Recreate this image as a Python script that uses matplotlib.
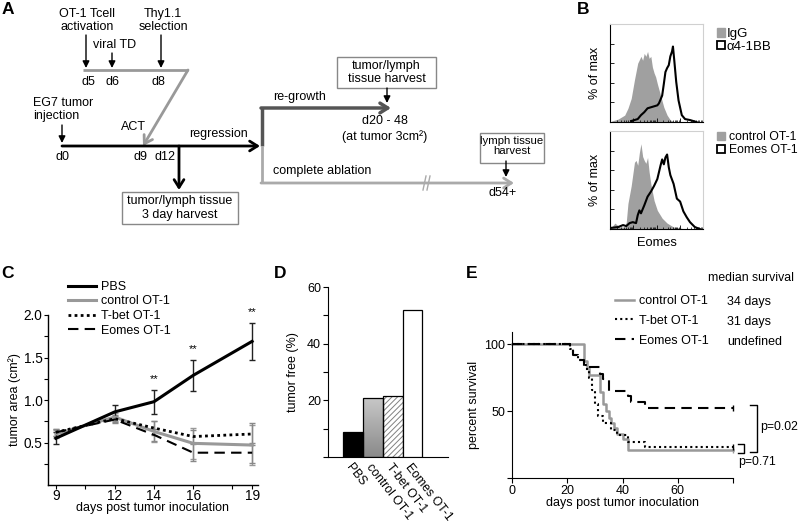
import matplotlib
matplotlib.use('Agg')
import matplotlib.pyplot as plt
import numpy as np
from matplotlib.patches import Rectangle, Patch

plt.rcParams['font.family'] = ['Liberation Sans', 'DejaVu Sans']
plt.rcParams['hatch.linewidth'] = 0.7

# ---------------- data ----------------
# Panel B histograms (channel 0-100 on a 4-decade log axis, % of max)
igg_x = [1.8, 8.8, 15.8, 19.3, 22.8, 26.3, 29.8, 33.3, 35.1, 36.8, 38.6, 40.4, 42.1, 43.9,
         45.6, 47.4, 49.1, 50.9, 54.4, 57.9, 61.4, 64.9, 70.2]
igg_y = [1, 3, 7, 14, 24, 43, 60, 67, 63, 70, 67, 72, 65, 67, 56, 50, 46, 39, 27, 15, 7, 2, 0]
a41bb_x = [22.8, 26.3, 29.8, 33.3, 36.8, 40.4, 43.9, 47.4, 50.9, 52.6, 56.1, 57.9, 59.6, 61.4,
           63.2, 64.9, 66.7, 67.7, 69.1, 71.2, 73.7, 77.2, 80.7, 86, 93]
a41bb_y = [1, 2, 3, 7, 10, 14, 15, 16, 17, 19, 27, 39, 51, 55, 58, 67, 72, 77, 63, 41, 22, 7, 3, 2, 0]
ctrlB_x = [0, 5.3, 10.5, 15.8, 17.5, 19.3, 22.8, 26.3, 28, 29.8, 31.6, 33.3, 35.1, 36.8, 38.6,
           40.4, 42.1, 43.9, 47.4, 50.9, 56.1, 61.4, 68.4, 75.4, 80]
ctrlB_y = [0, 6, 2, 2, 7, 26, 44, 68, 70, 65, 78, 87, 74, 70, 67, 73, 58, 46, 29, 19, 11, 6, 2, 1, 0]
eomesB_x = [0, 8.8, 14, 17.5, 21, 24.5, 28, 29.8, 31.6, 33.3, 36.8, 40.4, 43.9, 47.4, 50.9, 54.4,
            56.1, 57.9, 59.6, 61.4, 63.2, 64.9, 68.4, 71.9, 75.4, 78.9, 82.5, 86, 91.2, 96.5]
eomesB_y = [1, 2, 4, 3, 6, 7, 6, 14, 19, 16, 24, 33, 38, 44, 51, 65, 71, 66, 73, 76, 63, 55, 46,
            31, 28, 18, 12, 7, 2, 0]

# Panel C tumor growth
days = [9, 12, 14, 16, 19]
pbs = [0.55, 0.86, 0.98, 1.29, 1.69]
pbs_err = [0.07, 0.08, 0.14, 0.18, 0.22]
ctrl = [0.60, 0.80, 0.63, 0.49, 0.47]
ctrl_err = [0.05, 0.05, 0.12, 0.18, 0.24]
tbet = [0.62, 0.78, 0.67, 0.57, 0.60]
tbet_err = [0.04, 0.04, 0.08, 0.08, 0.13]
eomes = [0.62, 0.77, 0.59, 0.38, 0.38]
eomes_err = [0.04, 0.04, 0.07, 0.10, 0.12]
star_days = [14, 16, 19]

# Panel D tumor free
groups = ['PBS', 'control OT-1', 'T-bet OT-1', 'Eomes OT-1']
tumor_free = [9, 21, 21.7, 52]

# Panel E survival
control_t = [0, 26, 27, 28, 32, 33, 34, 35, 36, 37, 38, 40, 42, 80]
control_s = [100, 87, 82, 77, 64, 55, 50, 45, 41, 37, 33, 29, 21, 21]
tbet_t = [0, 21, 22, 24, 26, 27, 28, 29, 30, 31, 33, 36, 38, 42, 48, 80]
tbet_s = [100, 96, 92, 88, 84, 80, 75, 66, 55, 46, 41, 36, 32, 27, 23, 23]
eomes_t = [0, 21, 22, 24, 26, 32, 33, 35, 42, 43, 48, 80]
eomes_s = [100, 96, 92, 88, 83, 78, 74, 65, 61, 57, 52, 52]
median_labels = ['34 days', '31 days', 'undefined']

# ---------------- figure ----------------
W, H = 800, 522
fig = plt.figure(figsize=(8, 5.22), dpi=100)

def ax_px(l, t, r, b):
    a = fig.add_axes([l / W, 1 - b / H, (r - l) / W, (b - t) / H])
    a.set_facecolor('none')
    return a

ov = fig.add_axes([0, 0, 1, 1])
ov.set_xlim(0, W)
ov.set_ylim(H, 0)
ov.axis('off')

FS = 9.0

def txt(x, y, s, ha='center', va='center', fs=FS, **kw):
    ov.text(x, y, s, ha=ha, va=va, fontsize=fs, linespacing=1.12, **kw)

def arrow(x0, y0, x1, y1, color='k', lw=1.0, style='-|>,head_length=0.4,head_width=0.2', ms=10):
    ov.annotate('', xy=(x1, y1), xytext=(x0, y0),
                arrowprops=dict(arrowstyle=style, color=color, lw=lw, mutation_scale=ms,
                                shrinkA=0, shrinkB=0))

# panel letters
for s, x, y in [('A', 8, 9), ('B', 583, 9), ('C', 8, 273), ('D', 280, 273), ('E', 472, 273)]:
    ov.text(x, y, s, ha='center', va='center', fontsize=12.5, fontweight='bold')

# ---- Panel A ----
txt(87, 20.5, 'OT-1 Tcell\nactivation')
txt(163, 20.5, 'Thy1.1\nselection')
txt(115, 45, 'viral TD')
arrow(86, 35, 86, 68)
arrow(112, 53, 112, 68)
arrow(161, 35, 161, 68)
ov.plot([83, 188], [70, 70], color='#999999', lw=2, solid_capstyle='butt')
arrow(188, 70, 143, 146, color='#999999', lw=2, style='->,head_length=0.4,head_width=0.25', ms=14)
txt(88, 82, 'd5')
txt(112, 82, 'd6')
txt(158, 82, 'd8')
txt(33, 109.5, 'EG7 tumor\ninjection', ha='left')
arrow(62, 125, 62, 143)
arrow(62, 146, 260, 146, lw=2, style='->,head_length=0.35,head_width=0.22', ms=16)
txt(133, 127, 'ACT')
txt(218, 134, 'regression')
txt(62, 157, 'd0')
txt(140, 157, 'd9')
txt(165, 157, 'd12')
arrow(179, 146, 179, 190, lw=2, style='->,head_length=0.35,head_width=0.22', ms=16)
ov.add_patch(Rectangle((122, 192), 116, 32, fill=False, ec='#888888', lw=1))
txt(180, 208, 'tumor/lymph tissue\n3 day harvest')
# re-growth branch
ov.plot([262, 262], [146, 108], color='#555555', lw=2.5, solid_capstyle='butt')
arrow(261, 108, 391, 108, color='#555555', lw=2.5, style='->,head_length=0.35,head_width=0.22', ms=16)
txt(273, 97, 're-growth', ha='left')
ov.add_patch(Rectangle((337, 57), 99, 31, fill=False, ec='#888888', lw=1))
txt(386.5, 72.5, 'tumor/lymph\ntissue harvest')
arrow(387, 88, 387, 103)
txt(385, 121, 'd20 - 48')
txt(385, 137, '(at tumor 3cm\u00b2)')
# complete ablation branch
ov.plot([262, 262], [146, 183], color='#aaaaaa', lw=2, solid_capstyle='butt')
arrow(261, 183, 514, 183, color='#aaaaaa', lw=2, style='->,head_length=0.35,head_width=0.22', ms=16)
ov.plot([425, 428], [183, 183], color='white', lw=3, solid_capstyle='butt')
ov.plot([423, 426], [190, 176], color='#aaaaaa', lw=1)
ov.plot([427, 430], [190, 176], color='#aaaaaa', lw=1)
txt(273, 171, 'complete ablation', ha='left')
ov.add_patch(Rectangle((480, 133), 64, 30, fill=False, ec='#888888', lw=1))
txt(512, 146, 'lymph tissue\nharvest', fs=8.2)
arrow(506, 161, 506, 177)
txt(503, 193, 'd54+')

# ---- Panel B ----
def hist_axes(t, b):
    a = ax_px(610, t, 703, b)
    a.set_xlim(0, 100)
    a.set_ylim(0, 100)
    for sp in ['top', 'right']:
        a.spines[sp].set_color('#d0d0d0')
    for sp in ['left', 'bottom']:
        a.spines[sp].set_linewidth(0.8)
    a.set_yticks(np.arange(0, 101, 20))
    a.set_yticklabels([])
    major = [0, 25, 50, 75, 100]
    minor = [d * 25 + 25 * np.log10(k) for d in range(4) for k in range(2, 10)]
    a.set_xticks(major)
    a.set_xticks(minor, minor=True)
    a.set_xticklabels([])
    a.tick_params(direction='in', length=3, width=0.6)
    a.tick_params(which='minor', direction='in', length=1.5, width=0.5)
    a.set_ylabel('% of max', fontsize=9, labelpad=3)
    return a

b1 = hist_axes(24, 122)
b1.fill_between(igg_x, igg_y, color='#a0a0a0', lw=0)
b1.plot(a41bb_x, a41bb_y, color='black', lw=1.5)
b1.legend(handles=[Patch(fc='#a0a0a0', ec='#a0a0a0'), Patch(fc='white', ec='black', lw=1.3)],
          labels=['IgG', '\u03b14-1BB'], loc='upper left', bbox_to_anchor=(717 / W, 1 - 28 / H),
          bbox_transform=fig.transFigure, frameon=False, fontsize=9.5, handlelength=0.6,
          handleheight=0.6, handletextpad=0.15, labelspacing=0.05, borderpad=0, borderaxespad=0)

b2 = hist_axes(131, 229)
b2.fill_between(ctrlB_x, ctrlB_y, color='#a0a0a0', lw=0)
b2.plot(eomesB_x, eomesB_y, color='black', lw=1.5)
b2.set_xlabel('Eomes', fontsize=9.3, labelpad=2)
b2.legend(handles=[Patch(fc='#a0a0a0', ec='#a0a0a0'), Patch(fc='white', ec='black', lw=1.3)],
          labels=['control OT-1', 'Eomes OT-1'], loc='upper left', bbox_to_anchor=(717 / W, 1 - 131 / H),
          bbox_transform=fig.transFigure, frameon=False, fontsize=8.8, handlelength=0.62,
          handleheight=0.62, handletextpad=0.35, labelspacing=0.1, borderpad=0, borderaxespad=0)

# ---- Panel C ----
axC = ax_px(48, 315, 258, 485)
axC.set_xlim(8.6, 19.3)
axC.set_ylim(0, 2.0)
for sp in ['top', 'right']:
    axC.spines[sp].set_visible(False)
for sp in ['left', 'bottom']:
    axC.spines[sp].set_linewidth(1.0)
axC.set_xticks(days)
axC.set_xticks([10.5, 18], minor=True)
axC.set_yticks([0.5, 1.0, 1.5, 2.0])
axC.set_yticks([0.25, 0.75, 1.25, 1.75], minor=True)
axC.tick_params(labelsize=9.8, length=3, width=0.8, pad=1)
axC.tick_params(axis='x', pad=0)
axC.tick_params(which='minor', length=3, width=0.8)
axC.errorbar(days, ctrl, yerr=ctrl_err, fmt='none', ecolor='#999999', elinewidth=1, capsize=2.5)
axC.errorbar(days, tbet, yerr=tbet_err, fmt='none', ecolor='#888888', elinewidth=1, capsize=2.5)
axC.errorbar(days, eomes, yerr=eomes_err, fmt='none', ecolor='#888888', elinewidth=1, capsize=2.5)
axC.errorbar(days, pbs, yerr=pbs_err, fmt='none', ecolor='#222222', elinewidth=1, capsize=2.5)
lc_ctrl, = axC.plot(days, ctrl, color='#999999', lw=2.2, label='control OT-1')
lc_tbet, = axC.plot(days, tbet, color='black', lw=2, ls=(0, (1, 1.2)), label='T-bet OT-1')
lc_eom, = axC.plot(days, eomes, color='black', lw=1.5, ls=(0, (5, 3)), label='Eomes OT-1')
lc_pbs, = axC.plot(days, pbs, color='black', lw=2.2, label='PBS')
for d in star_days:
    i = days.index(d)
    axC.text(d, pbs[i] + pbs_err[i] + 0.13, '**', ha='center', va='center', fontsize=8, clip_on=False)
axC.set_xlabel('days post tumor inoculation', fontsize=9, labelpad=-1)
axC.set_ylabel('tumor area (cm\u00b2)', fontsize=9, labelpad=2)
axC.legend(handles=[lc_pbs, lc_ctrl, lc_tbet, lc_eom], loc='upper left',
           bbox_to_anchor=(68 / W, 1 - 281 / H), bbox_transform=fig.transFigure, frameon=False,
           fontsize=9, handlelength=2.2, handletextpad=0.45, labelspacing=0.2,
           borderpad=0, borderaxespad=0)

# ---- Panel D ----
axD = ax_px(328, 287, 448, 457)
xpos = np.arange(len(groups))
axD.set_xlim(-1.27, 4.8)
axD.set_ylim(0, 60)
for sp in ['top', 'right']:
    axD.spines[sp].set_visible(False)
axD.set_yticks([20, 40, 60])
axD.set_yticks([0, 10, 30, 50], minor=True)
axD.tick_params(axis='y', labelsize=9, length=3.5, width=0.8, pad=1.5)
axD.tick_params(axis='y', which='minor', length=3.5, width=0.8)
axD.set_xticks(xpos)
axD.set_xticklabels(groups, rotation=-52, ha='left', va='top', rotation_mode='anchor', fontsize=8.8)
axD.tick_params(axis='x', length=0, pad=3)
bars = axD.bar(xpos, tumor_free, width=1.0, color=['black', 'none', 'white', 'white'],
               edgecolor='black', lw=0.9, zorder=3)
# gradient for control bar
b = bars[1]
grad = np.linspace(0, 1, 100).reshape(-1, 1)
im = axD.imshow(grad, extent=(b.get_x(), b.get_x() + b.get_width(), 0, b.get_height()),
                cmap=matplotlib.colors.LinearSegmentedColormap.from_list('g', ['#8a8a8a', '#c8c8c8']),
                origin='lower', aspect='auto', zorder=2)
im.set_clip_path(b)
# hatch for T-bet bar
axD.bar(xpos[2], tumor_free[2], width=1.0, color='white', edgecolor='#808080', hatch='//////',
        lw=0, zorder=2.5)
bars[2].set_facecolor('none')
axD.set_ylabel('tumor free (%)', fontsize=9, labelpad=6)

# ---- Panel E ----
axE = ax_px(512, 332, 733, 478)
axE.set_xlim(0, 80)
axE.set_ylim(0, 109)
for sp in ['top', 'right']:
    axE.spines[sp].set_visible(False)
axE.set_xticks([0, 20, 40, 60, 80])
axE.set_xticklabels(['0', '20', '40', '60', ''])
axE.set_yticks([0, 50, 100])
axE.set_yticklabels(['', '50', '100'])
axE.tick_params(labelsize=9, length=3.5, width=0.8, pad=1.5)
le_ctrl, = axE.plot(control_t, control_s, drawstyle='steps-post', color='#999999', lw=1.8,
                    label='control OT-1', clip_on=False)
le_tbet, = axE.plot(tbet_t, tbet_s, drawstyle='steps-post', color='black', lw=1.5,
                    ls=(0, (1, 1.5)), label='T-bet OT-1', clip_on=False)
le_eom, = axE.plot(eomes_t, eomes_s, drawstyle='steps-post', color='black', lw=1.5,
                   ls=(0, (5, 3)), label='Eomes OT-1', clip_on=False)
axE.plot([control_t[-1]], [control_s[-1]], marker='|', color='#999999', ms=4, clip_on=False)
axE.plot([tbet_t[-1]], [tbet_s[-1]], marker='|', color='black', ms=4, clip_on=False)
axE.plot([eomes_t[-1]], [eomes_s[-1]], marker='|', color='black', ms=4, clip_on=False)
axE.set_xlabel('days post tumor inoculation', fontsize=9, labelpad=0)
axE.set_ylabel('percent survival', fontsize=9, labelpad=3)
axE.legend(handles=[le_ctrl, le_tbet, le_eom], loc='upper left',
           bbox_to_anchor=(615 / W, 1 - 295 / H), bbox_transform=fig.transFigure, frameon=False,
           fontsize=9, handlelength=1.5, handletextpad=0.4, labelspacing=0.62,
           borderpad=0, borderaxespad=0)
for i, s in enumerate(median_labels):
    txt(727, 302 + 20 * i, s, ha='left', fs=9)
txt(708, 278, 'median survival', ha='left', fs=8.8)
# p-value brackets
axE.plot([86.2, 88.7, 88.7, 86.2], [54.5, 54.5, 19.4, 19.4], color='black', lw=1, clip_on=False)
axE.plot([81.8, 84, 84, 81.8], [25.4, 25.4, 18.7, 18.7], color='black', lw=1, clip_on=False)
axE.text(90.0, 38, 'p=0.02', fontsize=8.8, va='center', ha='left', clip_on=False)
axE.text(81.8, 12, 'p=0.71', fontsize=8.8, va='center', ha='left', clip_on=False)

fig.savefig('out.png', dpi=100)
